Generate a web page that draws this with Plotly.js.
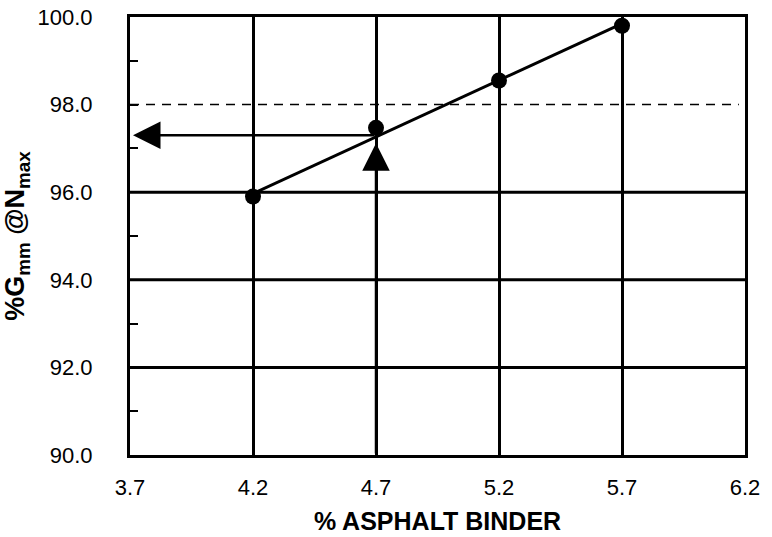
<!DOCTYPE html>
<html>
<head>
<meta charset="utf-8">
<script src="https://cdn.plot.ly/plotly-3.0.1.min.js"></script>
<style>html,body{margin:0;padding:0;background:#fff;}#chart{width:772px;height:537px;}</style>
</head>
<body>
<div id="chart"></div>
<script>
// Data
const binder = [4.2, 4.7, 5.2, 5.7];
const gmm = [95.9, 97.47, 98.55, 99.8];
const fitX = [4.2, 5.7];
const fitY = [95.97, 99.85];
const targetGmm = 98.0;
const designBinder = 4.7;
const designGmm = 97.3;
const gridY = [92, 94, 96];
const xTicks = [3.7, 4.2, 4.7, 5.2, 5.7, 6.2];
const yTicks = [90, 92, 94, 96, 98, 100];

const traces = [
  {x: fitX, y: fitY, mode: 'lines', line: {color: '#000', width: 3}, hoverinfo: 'skip', showlegend: false},
  {x: binder, y: gmm, mode: 'markers', marker: {color: '#000', size: 16, symbol: 'circle'}, showlegend: false}
];

const shapes = gridY.map(v => ({type: 'line', xref: 'paper', yref: 'y', x0: 0, x1: 1, y0: v, y1: v,
  line: {color: '#000', width: 3}, layer: 'below'}));
shapes.push({type: 'line', xref: 'paper', yref: 'y', x0: 0, x1: 0.99, y0: targetGmm, y1: targetGmm,
  line: {color: '#000', width: 1.5, dash: '9px,7px'}, layer: 'below'});

const annotations = [
  {x: designBinder, y: designGmm, ax: designBinder, ay: 90, xref: 'x', yref: 'y', axref: 'x', ayref: 'y',
   text: '', showarrow: true, arrowhead: 2, arrowsize: 2.2, arrowwidth: 2.5, arrowcolor: '#000', standoff: 8},
  {x: 3.7, y: designGmm, ax: designBinder, ay: designGmm, xref: 'x', yref: 'y', axref: 'x', ayref: 'y',
   text: '', showarrow: true, arrowhead: 2, arrowsize: 2.2, arrowwidth: 2.5, arrowcolor: '#000', standoff: 3}
];

const layout = {
  width: 772, height: 537,
  margin: {l: 130, r: 27, t: 17, b: 82},
  paper_bgcolor: '#fff', plot_bgcolor: '#fff',
  font: {family: 'Liberation Sans, Arial, sans-serif', color: '#000', size: 22},
  xaxis: {
    range: [3.7, 6.2], tickvals: xTicks, ticktext: xTicks.map(v => v.toFixed(1)),
    showgrid: true, gridcolor: '#000', gridwidth: 3,
    showline: true, linecolor: '#000', linewidth: 3, mirror: true,
    ticks: '', ticklabelstandoff: 11, zeroline: false,
    tickfont: {size: 22},
    title: {text: '<b>% ASPHALT BINDER</b>', font: {size: 25}, standoff: 14}
  },
  yaxis: {
    range: [90, 100], tickvals: yTicks, ticktext: yTicks.map(v => v.toFixed(1)),
    showgrid: false, zeroline: false,
    showline: true, linecolor: '#000', linewidth: 3, mirror: true,
    ticks: 'inside', ticklen: 8, tickwidth: 2, tickcolor: '#000',
    minor: {dtick: 1, tick0: 90, ticks: 'inside', ticklen: 8, tickwidth: 2, tickcolor: '#000', showgrid: false},
    ticklabelstandoff: 30,
    tickfont: {size: 22},
    title: {text: '<b>%G<sub>mm</sub> @N<sub>max</sub></b>', font: {size: 27}, standoff: 6}
  },
  shapes: shapes,
  annotations: annotations
};

Plotly.newPlot('chart', traces, layout, {displayModeBar: false, staticPlot: true});
</script>
</body>
</html>
